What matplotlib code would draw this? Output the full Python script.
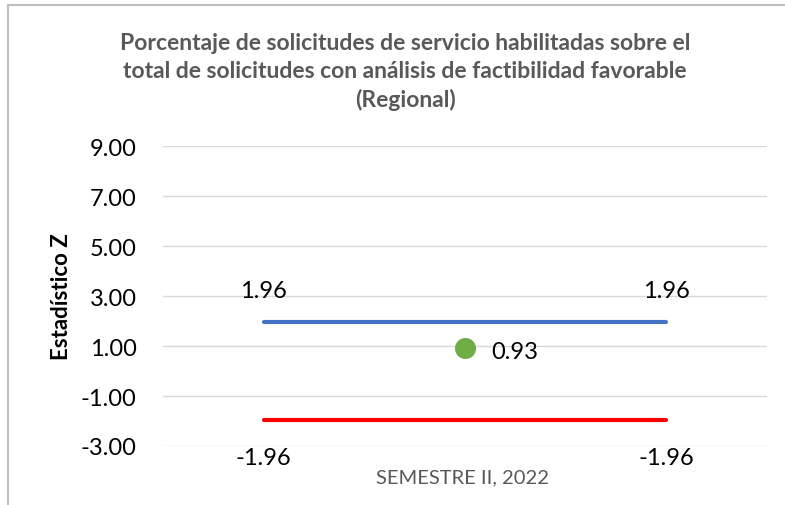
import matplotlib
matplotlib.use("Agg")
import matplotlib.pyplot as plt
from matplotlib.patches import Rectangle

plt.rcParams['font.family'] = ['Lato', 'DejaVu Sans']

categories = [0, 1, 2]
upper = [1.96, None, 1.96]
lower = [-1.96, None, -1.96]
z_point_x = [1]
z_point = [0.93]
yticks = [-3, -1, 1, 3, 5, 7, 9]
title = ("Porcentaje de solicitudes de servicio habilitadas sobre el\n"
         "total de solicitudes con análisis de factibilidad favorable\n"
         "(Regional)")

fig = plt.figure(figsize=(7.85, 5.06), dpi=100)
ax = fig.add_axes([163/785, 1-447/506, 604/785, 300/506])

ax.plot([categories[0], categories[2]], [upper[0], upper[2]], color='#4472C4', lw=3, solid_capstyle='round')
ax.plot([categories[0], categories[2]], [lower[0], lower[2]], color='#FF0000', lw=3, solid_capstyle='round')
ax.scatter(z_point_x, z_point, s=200, color='#70AD47', zorder=5)

ax.set_xlim(-0.5, 2.5)
ax.set_ylim(-3, 9)
ax.set_yticks(yticks)
ax.set_yticklabels([f"{v:.2f}" for v in yticks], fontsize=17)
ax.set_xticks([])
ax.grid(axis='y', color='#D9D9D9', lw=1)
ax.set_axisbelow(True)
for s in ax.spines.values():
    s.set_visible(False)
ax.tick_params(axis='y', length=0, pad=19)

for x in (categories[0], categories[2]):
    ax.annotate(f"{upper[x]:.2f}", (x, upper[x]), xytext=(0, 23), textcoords='offset points',
                ha='center', va='center', fontsize=17)
    ax.annotate(f"{lower[x]:.2f}", (x, lower[x]), xytext=(0, -27), textcoords='offset points',
                ha='center', va='center', fontsize=17)
ax.annotate(f"{z_point[0]:.2f}", (z_point_x[0], z_point[0]), xytext=(19, -3), textcoords='offset points',
            ha='left', va='center', fontsize=17)

fig.text(405/785, 1-72/506, title, ha='center', va='center', fontsize=16.5,
         fontweight='bold', color='#595959', linespacing=1.42)
fig.text(62/785, 1-297/506, "Estadístico Z", rotation=90, ha='center', va='center',
         fontsize=16, fontweight='bold')
fig.text(463/785, 1-478/506, "SEMESTRE II, 2022", ha='center', va='center',
         fontsize=14.5, color='#595959')

fig.patches.append(Rectangle((8/785, -0.1), 1.2, 1 - 6/506 + 0.1, transform=fig.transFigure,
                             fill=False, edgecolor='#BFBFBF', lw=1.5))

fig.savefig("out.png", dpi=100)
